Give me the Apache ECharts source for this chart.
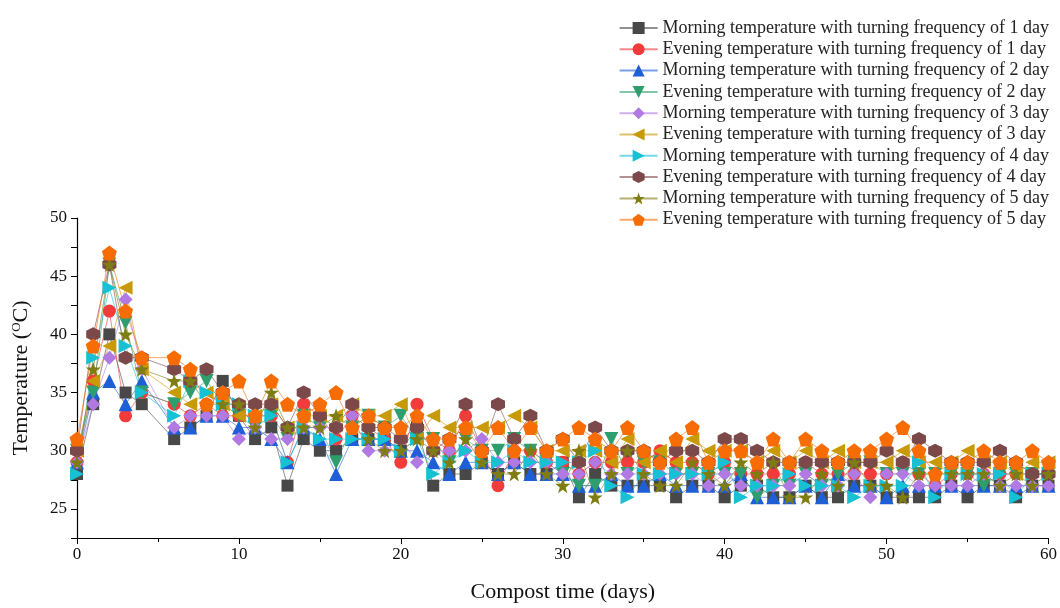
<!DOCTYPE html>
<html lang="en">
<head>
    <meta charset="UTF-8">
    <title>Compost temperature</title>
    <script src="https://cdn.jsdelivr.net/npm/echarts@6/dist/echarts.min.js"></script>
    <style>
        html, body { margin: 0; padding: 0; background: #fff; }
        #main { width: 1060px; height: 608px; }
    </style>
</head>
<body>
<div id="main"></div>
<script>
    // days sampled (day 5 has no reading)
    var days = [0, 1, 2, 3, 4, 6, 7, 8, 9, 10, 11, 12, 13, 14, 15, 16, 17, 18, 19, 20,
        21, 22, 23, 24, 25, 26, 27, 28, 29, 30, 31, 32, 33, 34, 35, 36, 37, 38, 39, 40,
        41, 42, 43, 44, 45, 46, 47, 48, 49, 50, 51, 52, 53, 54, 55, 56, 57, 58, 59, 60];

    var names = [
        'Morning temperature with turning frequency of 1 day',
        'Evening temperature with turning frequency of 1 day',
        'Morning temperature with turning frequency of 2 day',
        'Evening temperature with turning frequency of 2 day',
        'Morning temperature with turning frequency of 3 day',
        'Evening temperature with turning frequency of 3 day',
        'Morning temperature with turning frequency of 4 day',
        'Evening temperature with turning frequency of 4 day',
        'Morning temperature with turning frequency of 5 day',
        'Evening temperature with turning frequency of 5 day'
    ];

    var morning1 = [28, 34, 40, 35, 34, 31, 32, 33, 36, 33, 31, 32, 27, 31, 30, 30, 31, 31, 31, 30,
        32, 27, 28, 28, 29, 28, 29, 28, 28, 29, 26, 28, 27, 27, 27, 27, 26, 27, 27, 26,
        27, 27, 26, 26, 27, 26, 26, 27, 27, 26, 26, 26, 26, 27, 26, 27, 27, 26, 27, 27];
    var evening1 = [29, 36, 42, 33, 35, 34, 33, 34, 33, 33, 33, 33, 29, 34, 33, 31, 33, 32, 31, 29,
        34, 31, 30, 33, 30, 27, 30, 30, 29, 29, 28, 29, 29, 29, 29, 30, 29, 29, 28, 29,
        28, 28, 28, 28, 29, 28, 28, 28, 28, 28, 29, 28, 27, 28, 28, 28, 28, 28, 28, 28];
    var morning2 = [29, 35, 36, 34, 36, 32, 32, 33, 33, 32, 32, 31, 29, 32, 31, 28, 31, 31, 31, 30,
        30, 29, 28, 29, 29, 28, 29, 28, 28, 28, 27, 27, 28, 27, 27, 28, 27, 27, 27, 27,
        28, 26, 26, 26, 27, 26, 28, 27, 27, 26, 27, 27, 27, 27, 27, 27, 27, 27, 27, 27];
    var evening2 = [30, 35, 46, 41, 35, 34, 35, 36, 34, 33, 32, 33, 31, 33, 32, 29, 32, 33, 32, 33,
        31, 31, 29, 31, 30, 30, 31, 30, 29, 28, 27, 27, 31, 28, 29, 29, 28, 28, 28, 28,
        28, 26, 27, 27, 28, 27, 28, 29, 29, 28, 28, 28, 28, 28, 28, 27, 28, 28, 28, 28];
    var morning3 = [29, 34, 38, 43, 37, 32, 33, 33, 33, 31, 32, 31, 31, 32, 32, 32, 33, 30, 30, 31,
        29, 30, 30, 30, 31, 29, 29, 29, 29, 28, 28, 29, 28, 28, 28, 28, 28, 28, 27, 28,
        27, 27, 27, 27, 28, 27, 27, 28, 26, 28, 28, 27, 27, 27, 27, 28, 27, 27, 27, 27];
    var evening3 = [30, 36, 39, 44, 37, 35, 34, 35, 34, 33, 33, 34, 32, 33, 33, 33, 34, 33, 33, 34,
        31, 33, 32, 32, 32, 32, 33, 32, 30, 30, 30, 30, 29, 31, 29, 30, 29, 31, 30, 30,
        30, 29, 30, 29, 30, 29, 30, 29, 29, 29, 30, 29, 29, 29, 30, 29, 29, 28, 29, 29];
    var morning4 = [28, 38, 44, 39, 35, 33, 36, 35, 34, 34, 33, 33, 29, 32, 31, 31, 31, 31, 31, 30,
        31, 28, 29, 30, 29, 29, 30, 29, 29, 29, 29, 30, 27, 26, 28, 28, 28, 28, 28, 29,
        26, 27, 27, 28, 27, 27, 27, 26, 27, 27, 27, 29, 26, 28, 28, 28, 28, 26, 28, 28];
    var evening4 = [30, 40, 46, 38, 38, 37, 36, 37, 35, 34, 34, 34, 32, 35, 33, 32, 34, 32, 32, 31,
        32, 30, 31, 34, 30, 34, 31, 33, 30, 31, 29, 32, 30, 30, 30, 29, 30, 30, 29, 31,
        31, 30, 29, 29, 29, 29, 29, 29, 29, 30, 29, 31, 30, 29, 29, 29, 30, 29, 28, 28];
    var morning5 = [29, 37, 46, 40, 37, 36, 36, 34, 34, 34, 32, 35, 32, 32, 32, 33, 32, 31, 30, 30,
        31, 30, 29, 31, 29, 28, 28, 30, 28, 27, 30, 26, 28, 30, 28, 27, 27, 29, 28, 27,
        29, 28, 29, 26, 26, 28, 27, 29, 27, 27, 26, 28, 28, 28, 28, 28, 27, 28, 27, 28];
    var evening5 = [31, 39, 47, 42, 38, 38, 37, 34, 35, 36, 33, 36, 34, 33, 34, 35, 32, 33, 32, 32,
        33, 31, 31, 32, 30, 32, 30, 32, 30, 31, 32, 31, 30, 32, 30, 29, 31, 32, 29, 30,
        30, 29, 31, 29, 31, 30, 29, 30, 30, 31, 32, 30, 28, 29, 29, 30, 29, 29, 30, 29];

    var allValues = [morning1, evening1, morning2, evening2, morning3,
        evening3, morning4, evening4, morning5, evening5];

    var colors = ['#484848', '#f23b3b', '#1e5fd8', '#2f9e6e', '#b07ae2',
        '#c99a08', '#17c1d3', '#7b4949', '#7f7d12', '#f86c05'];

    var hexagon = 'path://M0,-10L8.66,-5L8.66,5L0,10L-8.66,5L-8.66,-5Z';
    var pentagon = 'path://M0,-10L9.51,-3.09L5.88,8.09L-5.88,8.09L-9.51,-3.09Z';
    var star = 'path://M0,-10L2.35,-3.24L9.51,-3.09L3.8,1.24L5.88,8.09L0,4L-5.88,8.09L-3.8,1.24L-9.51,-3.09L-2.35,-3.24Z';
    var symbols = ['rect', 'circle', 'triangle', 'triangle', 'diamond',
        'triangle', 'triangle', hexagon, star, pentagon];
    var rotates = [0, 0, 0, 180, 0, 90, -90, 0, 0, 0];
    var sizes = [12, 13, 14, 14, 14, 14, 14, 14, 15, 15];

    var series = [];
    for (var i = 0; i < names.length; i++) {
        var pts = [];
        for (var j = 0; j < days.length; j++) {
            pts.push([days[j], allValues[i][j]]);
        }
        series.push({
            name: names[i],
            type: 'line',
            data: pts,
            symbol: symbols[i],
            symbolRotate: rotates[i],
            symbolSize: sizes[i],
            lineStyle: { width: 1, color: colors[i], opacity: 0.6 },
            itemStyle: { color: colors[i] },
            emphasis: { disabled: true },
            animation: false
        });
    }

    var chart = echarts.init(document.getElementById('main'));
    var option = {
        backgroundColor: '#fff',
        color: colors,
        textStyle: { fontFamily: 'Liberation Serif' },
        legend: {
            orient: 'vertical',
            right: 6,
            top: 14,
            itemGap: 3.3,
            itemWidth: 38,
            itemHeight: 15,
            data: names,
            textStyle: { fontSize: 18, color: '#222', fontFamily: 'Liberation Serif' }
        },
        grid: { left: 77, right: 10, top: 218, bottom: 70 },
        xAxis: {
            type: 'value',
            min: 0,
            max: 60,
            interval: 10,
            name: 'Compost time (days)',
            nameLocation: 'middle',
            nameGap: 43,
            nameTextStyle: { fontSize: 22, color: '#111', fontFamily: 'Liberation Serif' },
            axisLine: { lineStyle: { color: '#000', width: 1.2 } },
            axisTick: { length: 6, lineStyle: { color: '#000' } },
            minorTick: { show: true, splitNumber: 2, length: 4, lineStyle: { color: '#000' } },
            splitLine: { show: false },
            axisLabel: { fontSize: 17, color: '#111', margin: 8 }
        },
        yAxis: {
            type: 'value',
            min: 22.5,
            max: 50,
            interval: 2.5,
            name: 'Temperature ({sup|O}C)',
            nameLocation: 'middle',
            nameGap: 44,
            nameRotate: 90,
            nameTextStyle: {
                fontSize: 22, color: '#111', fontFamily: 'Liberation Serif',
                rich: {
                    sup: { fontSize: 13, verticalAlign: 'top', padding: [0, 0, 10, 0], fontFamily: 'Liberation Serif', color: '#111' }
                }
            },
            axisLine: { show: true, lineStyle: { color: '#000', width: 1.2 } },
            axisTick: { show: true, length: 6, lineStyle: { color: '#000' } },
            splitLine: { show: false },
            axisLabel: {
                fontSize: 17, color: '#111', margin: 10,
                formatter: function (v) {
                    return v % 5 === 0 ? String(v) : '';
                }
            }
        },
        series: series
    };
    chart.setOption(option);
</script>
</body>
</html>
